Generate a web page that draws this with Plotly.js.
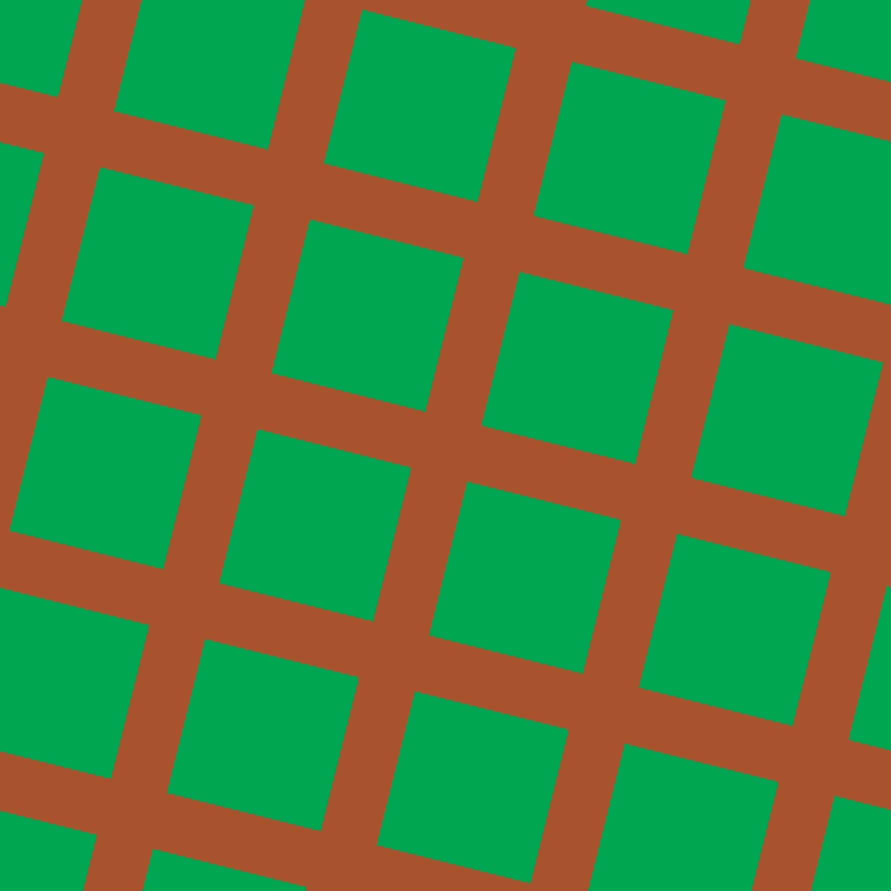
<!DOCTYPE html>
<html>
<head>
<meta charset="utf-8">
<script src="https://cdn.plot.ly/plotly-3.0.1.min.js"></script>
<style>html,body{margin:0;padding:0;background:#A9532E;}#chart{width:891px;height:891px;}</style>
</head>
<body>
<div id="chart"></div>
<script>
// Grid description
const columnIndex = [-4,-3,-2,-1,0,1,2,3,4,5];
const rowIndex = [-4,-3,-2,-1,0,1,2,3,4,5];
const originCorner = [361.7, 9.3];   // top-left corner of one tile
const tilePeriod = [216.2];          // tile + gap
const tileSide = [158.5];
const rotationDeg = [14.0];
const tileColor = '#00A651';
const groundColor = '#A9532E';

const th = rotationDeg[0] * Math.PI / 180;
const u = [Math.cos(th), Math.sin(th)];
const v = [-Math.sin(th), Math.cos(th)];
const P = tilePeriod[0], S = tileSide[0];
const xs = [], ys = [];
rowIndex.forEach(j => {
  columnIndex.forEach(i => {
    const cx = originCorner[0] + P * (i * u[0] + j * v[0]);
    const cy = originCorner[1] + P * (i * u[1] + j * v[1]);
    const pts = [[0,0],[1,0],[1,1],[0,1],[0,0]];
    pts.forEach(p => {
      xs.push(cx + S * (p[0] * u[0] + p[1] * v[0]));
      ys.push(cy + S * (p[0] * u[1] + p[1] * v[1]));
    });
    xs.push(null); ys.push(null);
  });
});

Plotly.newPlot('chart', [{
  type: 'scatter', mode: 'lines', x: xs, y: ys,
  fill: 'toself', fillcolor: tileColor,
  line: {width: 0, color: tileColor}, hoverinfo: 'skip', showlegend: false
}], {
  width: 891, height: 891,
  margin: {l: 0, r: 0, t: 0, b: 0, pad: 0},
  paper_bgcolor: groundColor, plot_bgcolor: groundColor,
  xaxis: {range: [0, 891], visible: false, fixedrange: true},
  yaxis: {range: [891, 0], visible: false, fixedrange: true},
  showlegend: false
}, {staticPlot: true, displayModeBar: false});
</script>
</body>
</html>
